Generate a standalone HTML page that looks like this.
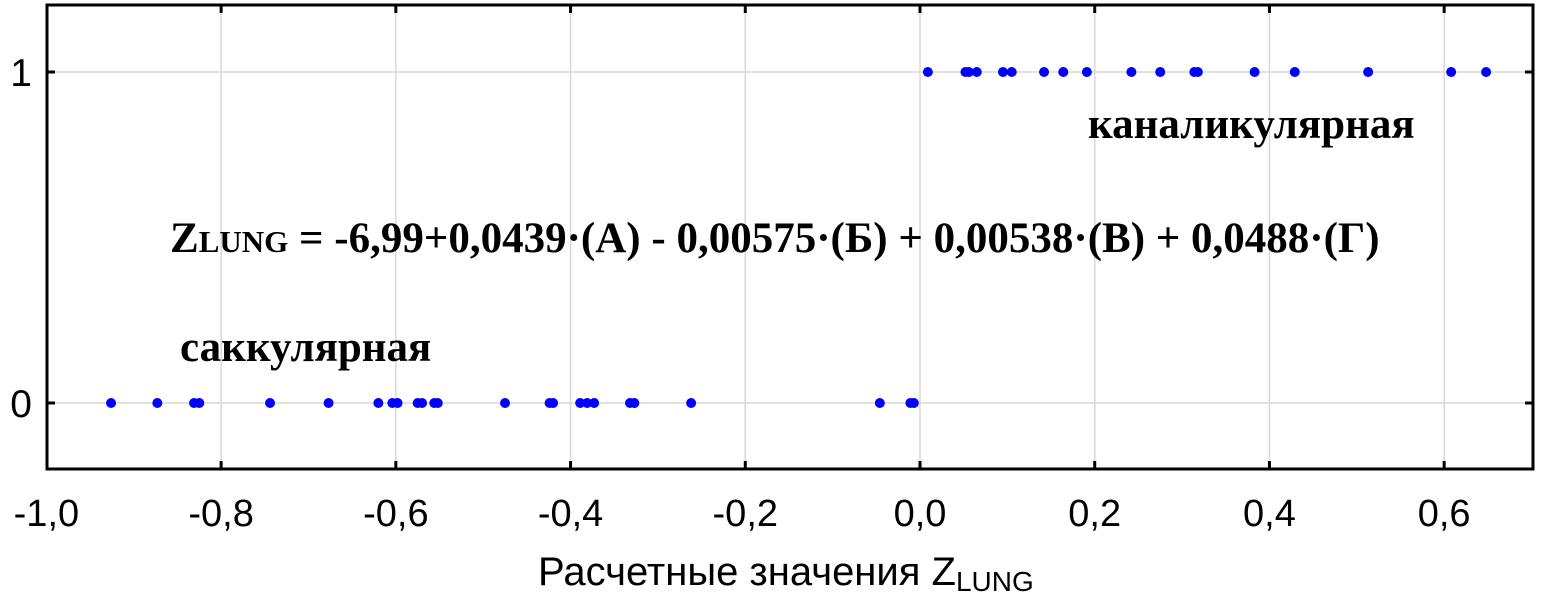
<!DOCTYPE html>
<html><head><meta charset="utf-8"><style>
html,body{margin:0;padding:0;background:#fff;}
svg{display:block;}
</style></head><body>
<svg id="chart" width="1544" height="605" xmlns="http://www.w3.org/2000/svg">
<g id="grid"></g>
<g id="marks"></g>
<rect x="47" y="5" width="1486" height="464" fill="none" stroke="#000" stroke-width="3"/>
<g id="ticks"></g>
<text x="1088" y="138" font-family="Liberation Serif, serif" font-weight="bold" font-size="43">каналикулярная</text>
<text x="170" y="252" font-family="Liberation Serif, serif" font-weight="bold" font-size="43">Z<tspan font-size="31">LUNG</tspan> = -6,99+0,0439·(А) - 0,00575·(Б) + 0,00538·(В) + 0,0488·(Г)</text>
<text x="180" y="361" font-family="Liberation Serif, serif" font-weight="bold" font-size="43">саккулярная</text>
<text x="538" y="585" font-family="Liberation Sans, sans-serif" font-size="40">Расчетные значения Z<tspan font-size="28" dy="6">LUNG</tspan></text>
</svg>
<script>
const xTicks = [-1.0,-0.8,-0.6,-0.4,-0.2,0.0,0.2,0.4,0.6];
const yTicks = [0,1];
const xGroup1 = [0.009,0.052,0.056,0.065,0.095,0.105,0.142,0.164,0.191,0.242,0.275,0.314,0.318,0.383,0.429,0.513,0.608,0.648];
const xGroup0 = [-0.926,-0.873,-0.831,-0.825,-0.744,-0.677,-0.620,-0.604,-0.598,-0.575,-0.570,-0.556,-0.552,-0.475,-0.424,-0.420,-0.389,-0.381,-0.373,-0.332,-0.327,-0.262,-0.046,-0.011,-0.007];
const NS='http://www.w3.org/2000/svg';
const X=v=>920+v*873.6;
const Y=v=>403-v*331;
function mk(t,a,p){const e=document.createElementNS(NS,t);for(const k in a)e.setAttribute(k,a[k]);p.appendChild(e);return e;}
const grid=document.getElementById('grid'),ticks=document.getElementById('ticks'),marks=document.getElementById('marks');
xTicks.forEach(v=>{
  const x=X(v);
  if(v>-1){const l=mk('line',{x1:x,x2:x,y1:5,y2:469,stroke:'#d8d8d8','stroke-width':1.5},grid);
  
  
  mk('line',{x1:x,x2:x,y1:469,y2:461,stroke:'#000','stroke-width':3},ticks);
  mk('line',{x1:x,x2:x,y1:5,y2:13,stroke:'#000','stroke-width':3},ticks);}
  const t=mk('text',{x:x,y:526,'text-anchor':'middle','font-family':'Liberation Sans, sans-serif','font-size':38},ticks);
  t.textContent=v.toFixed(1).replace('.',',');
  
  
});
yTicks.forEach(v=>{
  const y=Y(v);
  const l=mk('line',{x1:47,x2:1533,y1:y,y2:y,stroke:'#d8d8d8','stroke-width':1.5},grid);
  
  
  mk('line',{x1:47,x2:55,y1:y,y2:y,stroke:'#000','stroke-width':3},ticks);
  mk('line',{x1:1525,x2:1533,y1:y,y2:y,stroke:'#000','stroke-width':3},ticks);
  const t=mk('text',{x:32,y:y+14,'text-anchor':'end','font-family':'Liberation Sans, sans-serif','font-size':39},ticks);
  t.textContent=String(v);
  
  
});
[[xGroup1,1],[xGroup0,0]].forEach(([arr,yv])=>arr.forEach(v=>{
  const c=mk('circle',{cx:X(v),cy:Y(yv),r:5,fill:'#0000ff'},marks);
  
  
}));
</script>
</body></html>
